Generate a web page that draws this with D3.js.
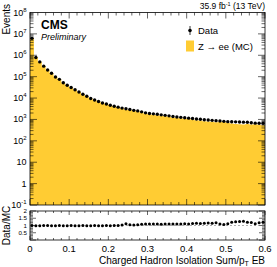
<!DOCTYPE html>
<html>
<head>
<meta charset="utf-8">
<script src="https://cdn.jsdelivr.net/npm/d3@7"></script>
<style>
  body { margin: 0; background: #fff; }
  svg { display: block; font-family: "Liberation Sans", Arial, sans-serif; }
</style>
</head>
<body>
<svg id="chart" width="277" height="267"></svg>
<script>
// bins: 0 - 0.6 in steps of 0.01
const binLow = d3.range(0, 60).map(i => i / 100);
const binWidth = 0.01;

// data counts per bin
const dataCounts = [
  6200000, 790000, 490000, 310000, 206000, 144000, 97000, 75000, 52000, 40000,
  31000, 24500, 19300, 15000, 12100, 9500, 8100, 6900, 5900, 5300,
  4600, 4150, 3760, 3400, 3160, 2900, 2660, 2510, 2265, 2030,
  1905, 1828, 1750, 1640, 1555, 1473, 1380, 1309, 1253, 1200,
  1150, 1114, 1055, 1021, 968, 937, 908, 879, 851, 815,
  789, 781, 773, 757, 748, 740, 701, 671, 664, 664
];

// Z -> ee MC prediction per bin
const mcCounts = [
  6200000, 798000, 495000, 310000, 206000, 145500, 98000, 75000, 52500, 40400,
  31000, 24750, 19500, 15000, 12220, 9600, 8100, 6970, 5960, 5300,
  4650, 4150, 3760, 3300, 2820, 2736, 2583, 2390, 2097, 1845,
  1732, 1647, 1591, 1505, 1401, 1339, 1243, 1190, 1129, 1071,
  1036, 986, 917, 896, 834, 794, 783, 739, 774, 762,
  704, 640, 613, 596, 575, 607, 584, 599, 558, 540
];

const yTickExp = [8, 7, 6, 5, 4, 3, 2, 1, 0, -1];
const xTicks = [0, 0.1, 0.2, 0.3, 0.4, 0.5, 0.6];
const ratioTicks = [0.5, 1, 1.5, 2];

const svg = d3.select('#chart');
const left = 30, right = 265;
const mainTop = 12.5, mainBot = 205;
const ratTop = 211, ratBot = 240;
const fillColor = '#ffcc33';

const x = d3.scaleLinear().domain([0, 0.6]).range([left, right]);
const y = d3.scaleLog().domain([0.1, 1e8]).range([mainBot, mainTop]);
const yr = d3.scaleLinear().domain([0, 2]).range([ratBot, ratTop]);

const bins = binLow.map((lo, i) => ({
  lo: lo, hi: lo + binWidth, c: lo + binWidth / 2,
  data: dataCounts[i], mc: mcCounts[i], ratio: dataCounts[i] / mcCounts[i]
}));

// MC histogram (filled step)
const area = d3.area()
  .curve(d3.curveStepAfter)
  .x(d => x(d.x))
  .y0(mainBot)
  .y1(d => y(d.v));
const stepPts = bins.map(b => ({x: b.lo, v: b.mc}));
stepPts.push({x: 0.6, v: bins[bins.length - 1].mc});
svg.append('path').datum(stepPts)
  .attr('d', area)
  .attr('fill', fillColor);

function frame(top, bot) {
  svg.append('rect')
    .attr('x', left).attr('y', top)
    .attr('width', right - left).attr('height', bot - top)
    .attr('fill', 'none').attr('stroke', '#000').attr('stroke-width', 0.8);
}

function tickLine(x1, y1, x2, y2) {
  svg.append('line')
    .attr('x1', x1).attr('y1', y1).attr('x2', x2).attr('y2', y2)
    .attr('stroke', '#000').attr('stroke-width', 0.6);
}

// log y ticks, both sides
for (let e = -1; e < 8; e++) {
  for (let m = 1; m < 10; m++) {
    const yy = y(m * Math.pow(10, e));
    const len = m === 1 ? 7 : 3.5;
    tickLine(left, yy, left + len, yy);
    tickLine(right, yy, right - len, yy);
  }
}
// x ticks main and ratio
d3.range(0, 31).forEach(k => {
  const xx = x(k * 0.02);
  const major = k % 5 === 0;
  tickLine(xx, mainBot, xx, mainBot - (major ? 6 : 3));
  tickLine(xx, mainTop, xx, mainTop + (major ? 6 : 3));
  tickLine(xx, ratBot, xx, ratBot - (major ? 4 : 2));
  tickLine(xx, ratTop, xx, ratTop + (major ? 4 : 2));
});
// ratio y ticks
d3.range(0, 21).forEach(k => {
  const yy = yr(k * 0.1);
  const len = k % 5 === 0 ? 6 : 3;
  tickLine(left, yy, left + len, yy);
  tickLine(right, yy, right - len, yy);
});

frame(mainTop, mainBot);
frame(ratTop, ratBot);

// y tick labels (main)
const yLab = svg.append('g').attr('font-size', 9).attr('text-anchor', 'end');
yTickExp.forEach(e => {
  const t = yLab.append('text').attr('x', 26.5).attr('y', y(Math.pow(10, e)) + 3);
  if (e === 0) t.text('1');
  else if (e === 1) t.text('10');
  else {
    t.append('tspan').text('10');
    t.append('tspan').attr('font-size', 6).attr('dy', -4).text(e);
  }
});

// ratio y labels
svg.append('g').attr('font-size', 6.2).attr('text-anchor', 'end')
  .selectAll('text').data(ratioTicks).join('text')
  .attr('x', 27).attr('y', d => yr(d) + 2.2)
  .text(d => d);

// x tick labels
svg.append('g').attr('font-size', 9.5).attr('text-anchor', 'middle')
  .selectAll('text').data(xTicks).join('text')
  .attr('x', d => x(d)).attr('y', 252)
  .text(d => d);

// x title
const xt = svg.append('text').attr('x', right).attr('y', 263.5)
  .attr('text-anchor', 'end').attr('font-size', 10);
xt.append('tspan').text('Charged Hadron Isolation Sum/p');
xt.append('tspan').attr('font-size', 7).attr('dy', 2.5).text('T');
xt.append('tspan').attr('dy', -2.5).text(' EB');

// y titles
svg.append('text').attr('transform', 'translate(10,4) rotate(-90)')
  .attr('text-anchor', 'end').attr('font-size', 10).text('Events');
svg.append('text').attr('transform', 'translate(10,' + ((ratTop + ratBot) / 2) + ') rotate(-90)')
  .attr('text-anchor', 'middle').attr('font-size', 10).text('Data/MC');

// ratio reference line
svg.append('line')
  .attr('x1', left).attr('x2', right).attr('y1', yr(1)).attr('y2', yr(1))
  .attr('stroke', '#777').attr('stroke-width', 0.6).attr('stroke-dasharray', '2,2');

// data points main
const pts = svg.append('g');
pts.selectAll('line').data(bins).join('line')
  .attr('x1', d => x(d.c)).attr('x2', d => x(d.c))
  .attr('y1', d => y(d.data + Math.sqrt(d.data)))
  .attr('y2', d => y(Math.max(d.data - Math.sqrt(d.data), 0.1)))
  .attr('stroke', '#000').attr('stroke-width', 0.8);
pts.selectAll('circle').data(bins).join('circle')
  .attr('cx', d => x(d.c)).attr('cy', d => y(d.data))
  .attr('r', 1.7).attr('fill', '#000');

// ratio points
const rp = svg.append('g');
rp.selectAll('line').data(bins).join('line')
  .attr('x1', d => x(d.c)).attr('x2', d => x(d.c))
  .attr('y1', d => yr(d.ratio * (1 + 1 / Math.sqrt(d.data))))
  .attr('y2', d => yr(d.ratio * (1 - 1 / Math.sqrt(d.data))))
  .attr('stroke', '#000').attr('stroke-width', 0.8);
rp.selectAll('circle').data(bins).join('circle')
  .attr('cx', d => x(d.c)).attr('cy', d => yr(d.ratio))
  .attr('r', 1.5).attr('fill', '#000');

// CMS labels
svg.append('text').attr('x', 41).attr('y', 29).attr('font-size', 12)
  .attr('font-weight', 'bold').text('CMS');
svg.append('text').attr('x', 41).attr('y', 40).attr('font-size', 9)
  .attr('font-style', 'italic').text('Preliminary');

// lumi label
const lumi = svg.append('text').attr('x', right).attr('y', 9)
  .attr('text-anchor', 'end').attr('font-size', 8.5);
lumi.append('tspan').text('35.9 fb');
lumi.append('tspan').attr('font-size', 5.5).attr('dy', -3.5).text('-1');
lumi.append('tspan').attr('dy', 3.5).text(' (13 TeV)');

// legend
const leg = svg.append('g').attr('font-size', 9.5);
leg.append('line').attr('x1', 190).attr('x2', 190).attr('y1', 26).attr('y2', 35)
  .attr('stroke', '#000').attr('stroke-width', 0.8);
leg.append('circle').attr('cx', 190).attr('cy', 30.5).attr('r', 1.8).attr('fill', '#000');
leg.append('text').attr('x', 198).attr('y', 34).text('Data');
leg.append('rect').attr('x', 186).attr('y', 40.5).attr('width', 8).attr('height', 11)
  .attr('fill', fillColor);
leg.append('text').attr('x', 198).attr('y', 50).text('Z \u2192 ee (MC)');
</script>
</body>
</html>
